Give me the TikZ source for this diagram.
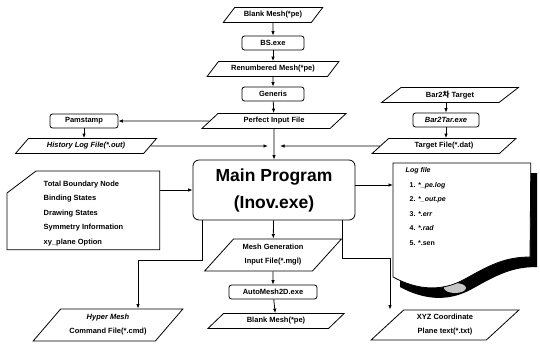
\documentclass[tikz,border=0pt]{standalone}
\usepackage{fontspec}
\setmainfont{Liberation Sans}
\newfontfamily\kr{Noto Sans CJK KR}
\usetikzlibrary{shapes.geometric,arrows.meta}
\begin{document}
\begin{tikzpicture}[x=1pt,y=-1pt,
  line width=0.8pt,
  lbl/.style={font=\fontsize{7.5}{14}\selectfont\bfseries},
  proc/.style={draw, rounded corners=2.5pt, minimum height=14, inner sep=1pt, lbl},
  io/.style={draw, trapezium, trapezium left angle=45, trapezium right angle=135,
             trapezium stretches=true, minimum height=15, inner sep=1pt, lbl},
  arr/.style={-{Latex[length=4.5pt,width=3.5pt]}},
]
\useasboundingbox (0,0) rectangle (540,349);

% top column
\node[io, minimum width=100] (bm1) at (273,15) {Blank Mesh(*pe)};
\node[proc, minimum width=62] (bs) at (273,43) {BS.exe};
\node[io, minimum width=132] (ren) at (273,69) {Renumbered Mesh(*pe)};
\node[proc, minimum width=62] (gen) at (273,94) {Generis};
\node[io, minimum width=145] (pif) at (274,121) {Perfect Input File};

% left column
\node[proc, minimum width=68] (pam) at (84,121) {Pamstamp};
\node[io, minimum width=142] (hist) at (86,146) {\itshape History Log File(*.out)};

% right column
\node[io, minimum width=137] (b2t) at (450,95) {Bar2{\kr 차} Target};
\node[proc, minimum width=66, font=\fontsize{7.5}{14}\selectfont\bfseries\itshape] (b2e) at (446,120) {Bar2Tar.exe};
\node[io, minimum width=144] (tgt) at (444,146) {Target File(*.dat)};

% main
\node[draw, rounded corners=6pt, minimum width=162, minimum height=60, align=center,
      font=\fontsize{17.5}{27}\selectfont\bfseries] (main) at (274,190) {Main Program\\(Inov.exe)};

% card (input options)
\node[minimum width=152, minimum height=78, anchor=north west, inner sep=0] (card) at (7,171) {};
\draw ([xshift=29pt]card.north west) -- (card.north east) -- (card.south east)
      -- (card.south west) -- ([yshift=-22pt]card.north west) -- cycle;
\node[anchor=north west, align=left, font=\fontsize{7.5}{14.5}\selectfont\bfseries] (cardtxt) at (40,177)
  {Total Boundary Node\\Binding States\\Drawing States\\Symmetry Information\\xy\_plane Option};

% log file document
\node[minimum width=137, minimum height=118, anchor=north west, inner sep=0] (log) at (393,163) {};
\begin{scope}[shift={(7,10)}]
  \fill[black] (393,163) -- (530,163) -- (530,257)
     .. controls (505,257) and (490,265) .. (465,279)
     .. controls (440,293) and (415,289) .. (393,277) -- cycle;
\end{scope}
\fill[gray!45] (455,288) ellipse [x radius=11, y radius=5];
\draw[fill=white] (log.north west) -- (log.north east) -- (530,257)
     .. controls (505,257) and (490,265) .. (465,279)
     .. controls (440,293) and (415,289) .. (393,277) -- cycle;
\node[anchor=north west, align=left, font=\fontsize{7}{14.5}\selectfont\bfseries] (logtxt) at (402,164)
  {\itshape Log file\\
   \hspace{4pt}1. \textit{*\_pe.log}\\
   \hspace{4pt}2. \textit{*\_out.pe}\\
   \hspace{4pt}3. \textit{*.err}\\
   \hspace{4pt}4. \textit{*.rad}\\
   \hspace{4pt}5. *.sen};

% bottom
\node[io, minimum width=137, minimum height=32, align=center] (mg) at (273,255) {Mesh Generation\\Input File(*.mgl)};
\node[proc, minimum width=88] (am) at (273,292) {AutoMesh2D.exe};
\node[io, minimum width=137] (bm2) at (276,321) {Blank Mesh(*pe)};
\node[io, minimum width=150, minimum height=32, align=center] (hm) at (108,325) {\itshape Hyper Mesh\\Command File(*.cmd)};
\node[io, minimum width=148, minimum height=30, align=center] (xyz) at (445,325) {XYZ Coordinate\\Plane text(*.txt)};

% connectors
\draw[arr] (bm1) -- (bs);
\draw[arr] (bs) -- (ren);
\draw[arr] (ren) -- (gen);
\draw[arr] (gen) -- (pif);
\draw[arr] (pif) -- (pam);
\draw[arr] (pam) -- (pam |- hist.north);
\coordinate (hj) at (268,146);
\coordinate (tj) at (280,146);
\draw[arr] (hist) -- (hj);
\draw[arr] (tgt) -- (tj);
\draw[arr] (pif) -- (main);
\draw[arr] (b2e |- b2t.south) -- (b2e);
\draw[arr] (b2e) -- (b2e |- tgt.north);
\draw[arr] (card.east |- main.west) -- (main.west);
\coordinate (a1) at ([yshift=5pt]main.east);
\draw[arr] (a1) -- (a1 -| log.west);
\draw[arr] (main) -- (mg);
\draw[arr] (mg) -- (am);
\draw[arr] (am) -- (bm2);
\coordinate (lb1) at ([xshift=-72pt]main.south);
\coordinate (lby) at (0,260);
\coordinate (hmin) at ([xshift=30pt]hm.north);
\draw[arr] (lb1) -- (lb1 |- lby) -- (hmin |- lby) -- (hmin);
\coordinate (rb1) at ([xshift=68pt]main.south);
\coordinate (rby) at (0,258);
\coordinate (xyzin) at ([xshift=-55pt]xyz.north);
\draw[arr] (rb1) -- (rb1 |- rby) -- (xyzin |- rby) -- (xyzin);
\end{tikzpicture}
\end{document}
